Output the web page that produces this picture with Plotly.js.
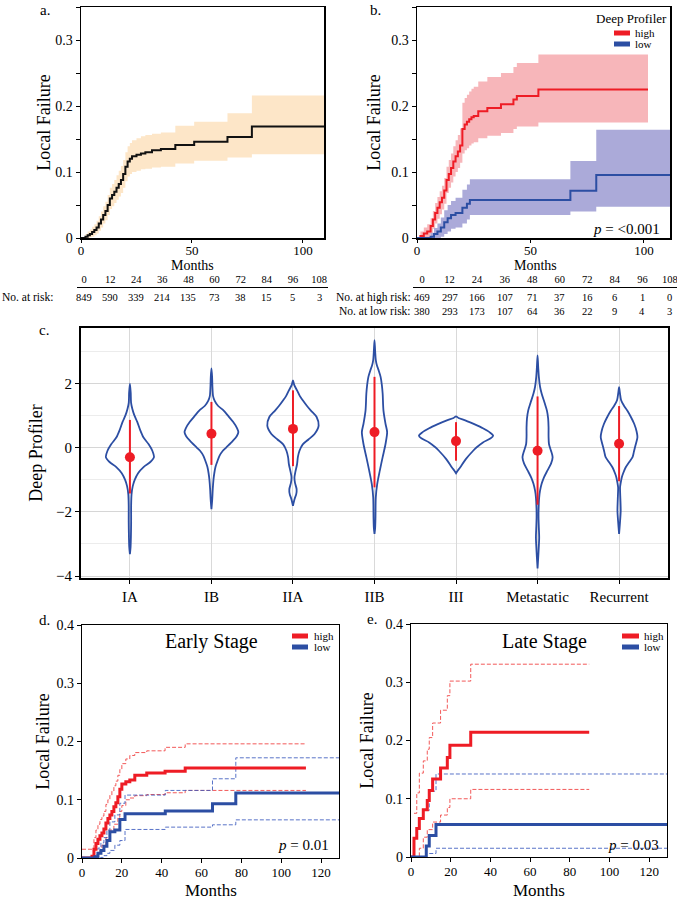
<!DOCTYPE html>
<html><head><meta charset="utf-8">
<script src="https://cdn.plot.ly/plotly-3.0.1.min.js"></script>
<style>html,body{margin:0;padding:0;background:#fff}#chart{width:677px;height:900px}</style>
</head><body><div id="chart"></div>
<script>
// ================= DATA =================
// Panel a: all patients, cumulative local failure
const aT  = [0,2,3,4,5,6,7,8,9,10, 11,12,13,14,15,16,17,18,19,20, 21,22,23,25,27,29,32,36, 42.5,51,66,77,109.5];
const aV  = [0,0.002,0.004,0.006,0.009,0.012,0.016,0.022,0.028,0.035, 0.041,0.05,0.06,0.065,0.07,0.076,0.082,0.088,0.097,0.108, 0.116,0.12,0.124,0.126,0.128,0.13,0.133,0.135, 0.141,0.146,0.153,0.169,0.169];
const aUp = [0,0.006,0.01,0.013,0.017,0.021,0.026,0.033,0.04,0.048, 0.055,0.065,0.076,0.082,0.088,0.095,0.102,0.109,0.118,0.13, 0.139,0.144,0.148,0.151,0.154,0.156,0.158,0.16, 0.17,0.176,0.189,0.216,0.216];
const aLo = [0,0,0,0.001,0.002,0.004,0.007,0.011,0.016,0.022, 0.027,0.035,0.044,0.048,0.053,0.058,0.063,0.068,0.076,0.086, 0.093,0.097,0.1,0.102,0.104,0.105,0.107,0.108, 0.113,0.117,0.122,0.127,0.127];

// Panel b: Deep Profiler high / low
const bHighT  = [0,1.5,3,4.5,6,7,8,9,10,11, 12,13,14,15,16,17,18,19,20,21, 22,23,24,25,27,31,37,42.5,44,53.5, 101.8];
const bHighV  = [0,0.003,0.007,0.01,0.018,0.028,0.038,0.046,0.054,0.061, 0.072,0.088,0.097,0.106,0.116,0.124,0.131,0.14,0.165,0.172, 0.176,0.18,0.183,0.185,0.192,0.197,0.2025,0.21,0.215,0.225, 0.225];
const bHighUp = [0,0.01,0.016,0.021,0.03,0.041,0.053,0.062,0.071,0.079, 0.091,0.108,0.118,0.128,0.139,0.148,0.156,0.166,0.205,0.212, 0.217,0.222,0.226,0.229,0.237,0.244,0.25,0.259,0.265,0.278, 0.278];
const bHighLo = [0,0,0,0.001,0.006,0.014,0.022,0.029,0.036,0.043, 0.052,0.068,0.076,0.084,0.093,0.1,0.106,0.114,0.128,0.133, 0.136,0.14,0.143,0.145,0.151,0.155,0.159,0.165,0.169,0.175, 0.175];
const bLowT   = [0,6,7.5,9,10.5,12,13.5,15,17,20,22,23.3,67.6,79,111.5];
const bLowV   = [0,0.002,0.006,0.01,0.016,0.024,0.03,0.035,0.038,0.046,0.052,0.0575,0.0717,0.0955,0.0955];
const bLowUp  = [0,0.008,0.015,0.022,0.031,0.042,0.05,0.056,0.061,0.073,0.081,0.089,0.1165,0.164,0.164];
const bLowLo  = [0,0,0,0,0.002,0.006,0.01,0.014,0.016,0.022,0.028,0.035,0.04,0.0475,0.0475];

// Number at risk tables
const riskTimes  = [0,12,24,36,48,60,72,84,96,108];
const atRiskAll  = [849,590,339,214,135,73,38,15,5,3];
const atRiskHigh = [469,297,166,107,71,37,16,6,1,0];
const atRiskLow  = [380,293,173,107,64,36,22,9,4,3];

// Panel c: Deep Profiler by stage (violin outlines: value, half width)
const stages    = ['IA','IB','IIA','IIB','III','Metastatic','Recurrent'];
const stageMid  = [-0.30,0.43,0.58,0.48,0.20,-0.10,0.12];
const stageLow  = [-1.43,-0.54,-0.58,-1.24,-0.41,-1.78,-1.05];
const stageHigh = [0.86,1.42,1.78,2.20,0.79,1.59,1.29];
const vIA_y  = [1.99,1.7,1.4,1.2,1.0,0.8,0.55,0.32,0.1,-0.1,-0.3,-0.45,-0.6,-0.8,-1.0,-1.2,-1.45,-1.8,-2.3,-2.8,-3.1,-3.32];
const vIA_w  = [0,0.01,0.014,0.03,0.055,0.09,0.125,0.165,0.23,0.275,0.295,0.25,0.17,0.1,0.06,0.035,0.02,0.015,0.015,0.012,0.008,0];
const vIB_y  = [2.46,2.2,1.9,1.6,1.45,1.3,1.15,1.0,0.8,0.6,0.48,0.35,0.2,0.0,-0.1,-0.25,-0.41,-0.6,-0.8,-1.0,-1.3,-1.6,-1.92];
const vIB_w  = [0,0.008,0.012,0.02,0.04,0.08,0.15,0.2,0.265,0.315,0.33,0.31,0.26,0.18,0.14,0.1,0.075,0.05,0.035,0.025,0.016,0.01,0];
const vIIA_y = [2.09,1.95,1.78,1.6,1.47,1.3,1.15,0.95,0.68,0.42,0.25,0.1,-0.1,-0.3,-0.52,-0.75,-0.93,-1.1,-1.3,-1.45,-1.6,-1.81];
const vIIA_w = [0,0.015,0.05,0.085,0.12,0.17,0.22,0.29,0.315,0.265,0.19,0.12,0.08,0.06,0.05,0.03,0.018,0.025,0.045,0.04,0.02,0];
const vIIB_y = [3.34,3.0,2.72,2.55,2.41,2.2,1.95,1.68,1.15,0.74,0.48,0.11,-0.3,-0.72,-1.14,-1.55,-2.18,-2.5,-2.69];
const vIIB_w = [0,0.008,0.016,0.03,0.05,0.075,0.09,0.1,0.11,0.135,0.155,0.135,0.1,0.065,0.033,0.016,0.012,0.008,0];
const vIII_y = [0.97,0.92,0.84,0.72,0.6,0.48,0.37,0.28,0.16,0.0,-0.1,-0.36,-0.62,-0.72,-0.8];
const vIII_w = [0,0.03,0.12,0.23,0.33,0.41,0.455,0.42,0.33,0.25,0.21,0.12,0.05,0.02,0];
const vMet_y = [2.87,2.5,2.2,1.9,1.68,1.4,1.15,0.9,0.63,0.35,0.11,-0.1,-0.3,-0.5,-0.72,-0.95,-1.13,-1.35,-1.55,-1.9,-2.18,-2.5,-2.8,-3.1,-3.43,-3.76];
const vMet_w = [0,0.008,0.016,0.03,0.05,0.085,0.115,0.13,0.135,0.135,0.14,0.165,0.185,0.165,0.12,0.075,0.05,0.03,0.02,0.013,0.012,0.016,0.02,0.015,0.008,0];
const vRec_y = [1.88,1.7,1.47,1.3,1.15,0.95,0.74,0.5,0.32,0.15,0.01,-0.15,-0.3,-0.45,-0.62,-0.8,-0.93,-1.1,-1.24,-1.6,-1.97,-2.3,-2.69];
const vRec_w = [0,0.01,0.025,0.06,0.1,0.145,0.185,0.215,0.225,0.21,0.195,0.18,0.165,0.125,0.08,0.05,0.033,0.02,0.012,0.016,0.02,0.012,0];

// Panel d: early stage
const dHighT   = [0,5,6,7,8,9,10,11,12,13,14,15,16,17,18,19,20,22,24,26.5,32.5,41.7,51.8,112.4];
const dHighV   = [0,0.003,0.015,0.025,0.032,0.038,0.043,0.05,0.06,0.068,0.074,0.08,0.088,0.095,0.105,0.118,0.127,0.131,0.134,0.142,0.146,0.149,0.1546,0.1546];
const dHighUpT = [0,6,7,8,9,10,11,12,13,14,15,16,17,18,19,20,22,24,26.5,32.5,41.7,51.8,112.4];
const dHighUp  = [0.015,0.035,0.048,0.058,0.066,0.072,0.08,0.092,0.1,0.108,0.115,0.124,0.132,0.142,0.152,0.162,0.17,0.176,0.181,0.184,0.19,0.196,0.196];
const dHighLoT = [0,6,8,10,12,14,16,18,19,20,22,24,26.5,32.5,41.7,51.8,112.4];
const dHighLo  = [0,0.003,0.012,0.022,0.035,0.048,0.058,0.07,0.08,0.09,0.1,0.103,0.107,0.109,0.112,0.116,0.116];
const dLowT    = [0,6.5,8,9.5,11,12.5,14,16.5,19,21.6,41.8,65.5,77.2,129];
const dLowV    = [0,0.002,0.008,0.013,0.02,0.03,0.045,0.048,0.066,0.076,0.0805,0.093,0.1115,0.1115];
const dLowUp   = [0,0.006,0.017,0.026,0.035,0.048,0.062,0.074,0.094,0.108,0.116,0.136,0.172,0.172];
const dLowLo   = [0,0,0,0.001,0.004,0.008,0.013,0.022,0.03,0.049,0.053,0.057,0.0655,0.0655];

// Panel e: late stage
const eHighT   = [0,1.5,2.9,4.2,6.2,8.2,9.2,10.9,14.9,18.3,19.6,30.1,89.8];
const eHighV   = [0,0.032,0.049,0.066,0.081,0.097,0.114,0.134,0.153,0.171,0.192,0.214,0.214];
const eHighUpT = [1.5,2.9,4.2,6.2,8.2,9.2,10.9,14.9,18.3,19.6,30.1,89.8];
const eHighUp  = [0.075,0.11,0.144,0.165,0.185,0.205,0.23,0.252,0.277,0.302,0.331,0.331];
const eHighLoT = [1.5,4.2,6.2,8.2,10.9,14.9,18.3,19.6,30.1,89.8];
const eHighLo  = [0,0.015,0.034,0.047,0.06,0.072,0.085,0.1,0.116,0.116];
const eLowT    = [0,7.7,9.2,12.6,129];
const eLowV    = [0,0.019,0.037,0.056,0.056];
const eLowUpT  = [7.7,9.2,12.6,129];
const eLowUp   = [0.08,0.113,0.1425,0.1425];
const eLowLoT  = [9.2,12.6,129];
const eLowLo   = [0.006,0.015,0.015];

// ================= STYLE =================
const W = 677, H = 900;
const px = v => v / W;
const py = v => 1 - v / H;
const FONT = 'Liberation Serif, Times New Roman, serif';
const RED = '#ee1c25', BLUE = '#2c4ea3';
const RED_BAND = '#f7b6ba', BLUE_BAND = '#abaad9', PEACH = '#fde6c8';
const RED_DASH = 'rgba(240,60,60,0.85)', BLUE_DASH = 'rgba(60,90,190,0.85)';
const DASH = '4px,2px';

const traces = [];
function band(x, lo, up, color, xa, ya) {
  traces.push({type:'scatter', mode:'lines', x:x, y:lo, xaxis:xa, yaxis:ya, line:{width:0, shape:'hv'}, hoverinfo:'skip', showlegend:false});
  traces.push({type:'scatter', mode:'lines', x:x, y:up, xaxis:xa, yaxis:ya, line:{width:0, shape:'hv'}, fill:'tonexty', fillcolor:color, hoverinfo:'skip', showlegend:false});
}
function step(x, y, color, width, xa, ya, dash, name) {
  traces.push({type:'scatter', mode:'lines', x:x, y:y, xaxis:xa, yaxis:ya, name:name||'', line:{color:color, width:width, shape:'hv', dash:dash||'solid'}, showlegend:false});
}

// panel a
band(aT, aLo, aUp, PEACH, 'x', 'y');
step(aT, aV, '#111', 2, 'x', 'y', 'solid', 'all');
// panel b
band(bHighT, bHighLo, bHighUp, RED_BAND, 'x2', 'y2');
band(bLowT, bLowLo, bLowUp, BLUE_BAND, 'x2', 'y2');
step(bHighT, bHighV, RED, 2, 'x2', 'y2', 'solid', 'high');
step(bLowT, bLowV, BLUE, 2, 'x2', 'y2', 'solid', 'low');
// at-risk table axes (no marks, only to create the header axes)
traces.push({type:'scatter', mode:'markers', x:[null], y:[null], xaxis:'x6', yaxis:'y6', hoverinfo:'skip', showlegend:false});
traces.push({type:'scatter', mode:'markers', x:[null], y:[null], xaxis:'x7', yaxis:'y7', hoverinfo:'skip', showlegend:false});

// panel c violins
const vY = [vIA_y, vIB_y, vIIA_y, vIIB_y, vIII_y, vMet_y, vRec_y];
const vW = [vIA_w, vIB_w, vIIA_w, vIIB_w, vIII_w, vMet_w, vRec_w];
stages.forEach((s, i) => {
  const ys = vY[i], ws = vW[i];
  const xs = ws.map(w => i + w).concat(ws.slice().reverse().map(w => i - w));
  const yy = ys.concat(ys.slice().reverse());
  traces.push({type:'scatter', mode:'lines', x:xs, y:yy, xaxis:'x3', yaxis:'y3', name:s,
    line:{color:BLUE, width:1.8, shape:'spline', smoothing:0.8}, hoverinfo:'skip', showlegend:false});
});
traces.push({type:'scatter', mode:'markers', x:stages.map((s,i)=>i), y:stageMid, xaxis:'x3', yaxis:'y3',
  marker:{color:RED, size:10},
  error_y:{type:'data', symmetric:false, array:stageHigh.map((h,i)=>h-stageMid[i]), arrayminus:stageLow.map((l,i)=>stageMid[i]-l), color:RED, thickness:2, width:0},
  showlegend:false});

// panel d
step(dHighUpT, dHighUp, RED_DASH, 1, 'x4', 'y4', DASH);
step(dHighLoT, dHighLo, RED_DASH, 1, 'x4', 'y4', DASH);
step(dLowT, dLowUp, BLUE_DASH, 1, 'x4', 'y4', DASH);
step(dLowT, dLowLo, BLUE_DASH, 1, 'x4', 'y4', DASH);
step(dHighT, dHighV, RED, 3, 'x4', 'y4', 'solid', 'high');
step(dLowT, dLowV, BLUE, 3, 'x4', 'y4', 'solid', 'low');
// panel e
step(eHighUpT, eHighUp, RED_DASH, 1, 'x5', 'y5', DASH);
step(eHighLoT, eHighLo, RED_DASH, 1, 'x5', 'y5', DASH);
step(eLowUpT, eLowUp, BLUE_DASH, 1, 'x5', 'y5', DASH);
step(eLowLoT, eLowLo, BLUE_DASH, 1, 'x5', 'y5', DASH);
step(eHighT, eHighV, RED, 3, 'x5', 'y5', 'solid', 'high');
step(eLowT, eLowV, BLUE, 3, 'x5', 'y5', 'solid', 'low');

// ================= LAYOUT =================
const base = {showline:true, mirror:true, linecolor:'black', linewidth:1.5, ticks:'outside', ticklen:4, tickwidth:1,
  tickcolor:'black', showgrid:false, zeroline:false, tickfont:{size:14, family:FONT}, fixedrange:true};
const kmYt = [0,0.05,0.1,0.15,0.2,0.25,0.3,0.35];
const kmYl = ['0','','0.1','','0.2','','0.3',''];
const tableX = {side:'top', showline:true, linecolor:'black', linewidth:1, ticks:'', tickvals:riskTimes,
  showgrid:false, zeroline:false, tickfont:{size:10.5, family:FONT}, fixedrange:true, ticklabeloverflow:'allow'};
const hiddenY = {visible:false, range:[0,1], fixedrange:true, showgrid:false, zeroline:false};

const layout = {
  width:W, height:H, margin:{l:0,r:0,t:0,b:0}, showlegend:false,
  paper_bgcolor:'white', plot_bgcolor:'rgba(0,0,0,0)', font:{family:FONT, color:'black'},
  xaxis:  Object.assign({}, base, {domain:[px(81),px(324)], range:[0,109.5], tickvals:[0,50,100], anchor:'y', ticklen:3,
            ticklabelstandoff:-3, tickfont:{size:13, family:FONT}}),
  yaxis:  Object.assign({}, base, {domain:[py(238),py(7)], range:[0,0.35], tickvals:kmYt, ticktext:kmYl, anchor:'x',
            title:{text:'Local Failure', font:{size:18}, standoff:0}}),
  xaxis2: Object.assign({}, base, {domain:[px(417),px(670)], range:[0,111.5], tickvals:[0,50,100], anchor:'y2', ticklen:3,
            ticklabelstandoff:-3, tickfont:{size:13, family:FONT}}),
  yaxis2: Object.assign({}, base, {domain:[py(238),py(7)], range:[0,0.35], tickvals:kmYt, ticktext:kmYl, anchor:'x2',
            title:{text:'Local Failure', font:{size:18}, standoff:6}}),
  xaxis3: Object.assign({}, base, {domain:[px(81),px(668)], range:[-0.6,6.6], tickvals:[0,1,2,3,4,5,6], ticktext:stages,
            showgrid:true, gridcolor:'#d9d9d9', linewidth:2, tickfont:{size:15, family:FONT}, anchor:'y3'}),
  yaxis3: Object.assign({}, base, {domain:[py(578),py(328)], range:[-4.06,3.72], tick0:0, dtick:2, showgrid:true,
            gridcolor:'#d6d6d6', linewidth:2, tickfont:{size:15, family:FONT}, anchor:'x3',
            minor:{dtick:1, showgrid:true, gridcolor:'#ececec', ticks:''},
            title:{text:'Deep Profiler', font:{size:18}, standoff:9}}),
  xaxis4: Object.assign({}, base, {domain:[px(82),px(339)], range:[0,129], tick0:0, dtick:20, linewidth:1.3, anchor:'y4',
            ticklabelstandoff:-2, tickfont:{size:13, family:FONT}}),
  yaxis4: Object.assign({}, base, {domain:[py(858),py(625)], range:[0,0.4], tickvals:[0,0.1,0.2,0.3,0.4], ticktext:['0','0.1','0.2','0.3','0.4'],
            linewidth:1.3, anchor:'x4', title:{text:'Local Failure', font:{size:18}, standoff:2}}),
  xaxis5: Object.assign({}, base, {domain:[px(411),px(667)], range:[0,129], tick0:0, dtick:20, linewidth:1.3, anchor:'y5',
            ticklabelstandoff:-2, tickfont:{size:13, family:FONT}}),
  yaxis5: Object.assign({}, base, {domain:[py(857),py(624)], range:[0,0.4], tickvals:[0,0.1,0.2,0.3,0.4], ticktext:['0','0.1','0.2','0.3','0.4'],
            linewidth:1.3, anchor:'x5', title:{text:'Local Failure', font:{size:18}, standoff:7}}),
  xaxis6: Object.assign({}, tableX, {domain:[px(77),px(328)], range:[-3.22,112.1], anchor:'y6'}),
  yaxis6: Object.assign({}, hiddenY, {domain:[py(289),py(288)], anchor:'x6'}),
  xaxis7: Object.assign({}, tableX, {domain:[px(413),px(677)], range:[-3.92,111.06], anchor:'y7'}),
  yaxis7: Object.assign({}, hiddenY, {domain:[py(289),py(288)], anchor:'x7'}),
  annotations: [],
  shapes: []
};

const A = layout.annotations;
function note(text, x, y, size, xanchor, extra) {
  A.push(Object.assign({text:text, xref:'paper', yref:'paper', x:px(x), y:py(y), showarrow:false,
    xanchor:xanchor||'center', yanchor:'middle', font:{size:size, family:FONT, color:'black'}}, extra||{}));
}
// panel letters
note('a.', 38, 10, 15, 'left');
note('b.', 368, 10, 15, 'left');
note('c.', 37, 330, 15, 'left');
note('d.', 37, 620, 15, 'left');
note('e.', 365, 619, 15, 'left');
// x axis titles (placed to sit between tick labels and the tables / page edge)
note('Months', 192, 265.5, 14, 'center');
note('Months', 535, 265.5, 14, 'center');
note('Months', 210.5, 890, 17, 'center');
note('Months', 539, 890, 17, 'center');
// p values & titles
note('<i>p</i> = &lt;0.001', 662, 229, 15, 'right');
note('<i>p</i> = 0.01', 331, 845, 15, 'right');
note('<i>p</i> = 0.03', 661, 845, 15, 'right');
note('Early Stage', 212, 641, 20, 'center');
note('Late Stage', 544, 641, 20, 'center');
// legends
note('Deep Profiler', 669, 19, 13, 'right');
note('high', 633, 33, 11, 'left');
note('low', 633, 44, 11, 'left');
note('high', 312, 636, 11, 'left');
note('low', 312, 647, 11, 'left');
note('high', 642, 636, 11, 'left');
note('low', 642, 647, 11, 'left');
function legLine(x0, x1, y, color) {
  layout.shapes.push({type:'line', xref:'paper', yref:'paper', x0:px(x0), x1:px(x1), y0:py(y), y1:py(y), line:{color:color, width:5}});
}
legLine(614, 630, 33, RED); legLine(614, 630, 44, BLUE);
legLine(292, 308, 636, RED); legLine(292, 308, 647, BLUE);
legLine(622, 639, 636, RED); legLine(622, 639, 647, BLUE);

// at-risk tables
note('No. at risk:', 0, 297, 11.5, 'left');
note('No. at high risk:', 413, 297, 11.5, 'right');
note('No. at low risk:', 413, 311.5, 11.5, 'right');
riskTimes.forEach((t, i) => {
  A.push({text:String(atRiskAll[i]), xref:'x6', yref:'paper', x:t, y:py(297), showarrow:false, yanchor:'middle', font:{size:10.5, family:FONT}});
  A.push({text:String(atRiskHigh[i]), xref:'x7', yref:'paper', x:t, y:py(297), showarrow:false, yanchor:'middle', font:{size:10.5, family:FONT}});
  A.push({text:String(atRiskLow[i]), xref:'x7', yref:'paper', x:t, y:py(311.5), showarrow:false, yanchor:'middle', font:{size:10.5, family:FONT}});
});

Plotly.newPlot('chart', traces, layout, {displayModeBar:false, staticPlot:true});
</script>
</body></html>
